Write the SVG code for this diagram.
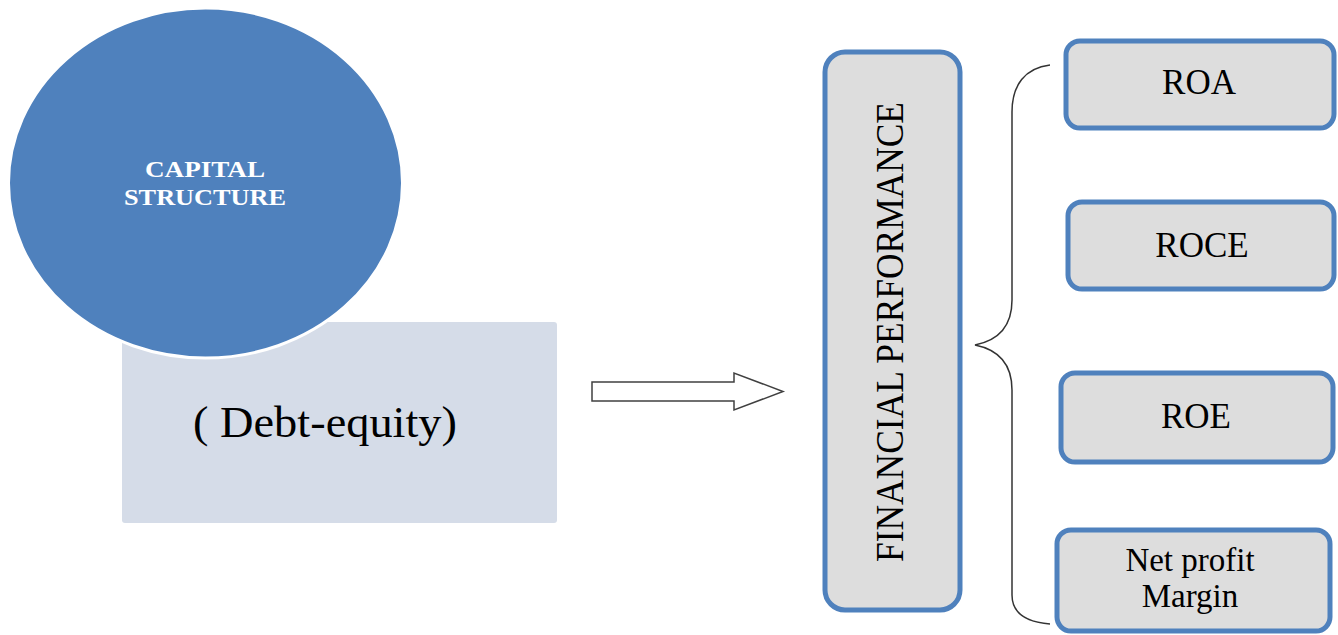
<svg xmlns="http://www.w3.org/2000/svg" width="1338" height="635" viewBox="0 0 1338 635">
<style>
.box{fill:#DDDDDD;stroke:#4F81BD;stroke-width:5}
.t{font-family:"Liberation Serif","Times New Roman",serif;fill:#000;text-anchor:middle}
.m{font-size:35px}
.w{fill:#fff;font-size:24px;font-weight:bold}
</style>
<rect width="1338" height="635" fill="#fff"/>
<g id="debt-equity">
<rect x="122" y="322" width="435" height="201" rx="3" fill="#D5DCE8"/>
<text class="t" x="325" y="437" font-size="44" textLength="264" lengthAdjust="spacingAndGlyphs">( Debt-equity)</text>
</g>
<g id="capital-structure">
<ellipse cx="205.5" cy="183" rx="197" ry="175" fill="#4F81BD" stroke="#fff" stroke-width="3"/>
<text class="t w" x="205" y="177" textLength="120" lengthAdjust="spacingAndGlyphs">CAPITAL</text>
<text class="t w" x="205" y="205" textLength="162" lengthAdjust="spacingAndGlyphs">STRUCTURE</text>
</g>
<g id="connectors">
<path d="M592,382 L734,382 L734,373 L783,391.5 L734,410 L734,401 L592,401 Z" fill="#fff" stroke="#404040" stroke-width="1.5"/>
<path d="M1050,65 C1025,68 1012,85 1012,112 L1012,300 C1012,325 1000,340 975,345 C1000,350 1012,365 1012,390 L1012,595 C1012,612 1025,622 1050,624" fill="none" stroke="#333" stroke-width="1.5"/>
</g>
<g id="financial-performance">
<rect class="box" x="825" y="52" width="135" height="558" rx="20"/>
<text class="t" transform="translate(903,332) rotate(-90)" x="0" y="0" font-size="39" textLength="460" lengthAdjust="spacingAndGlyphs">FINANCIAL PERFORMANCE</text>
</g>
<g id="roa">
<rect class="box" x="1066" y="41" width="268" height="87" rx="14"/>
<text class="t m" x="1199" y="94">ROA</text>
</g>
<g id="roce">
<rect class="box" x="1068" y="202" width="266" height="87" rx="14"/>
<text class="t m" x="1202" y="257">ROCE</text>
</g>
<g id="roe">
<rect class="box" x="1061" y="373" width="272" height="89" rx="14"/>
<text class="t m" x="1196" y="428">ROE</text>
</g>
<g id="net-profit-margin">
<rect class="box" x="1057" y="530" width="273" height="101" rx="14"/>
<text class="t" x="1190" y="571" font-size="33">Net profit</text>
<text class="t" x="1190" y="607" font-size="33">Margin</text>
</g>
</svg>
